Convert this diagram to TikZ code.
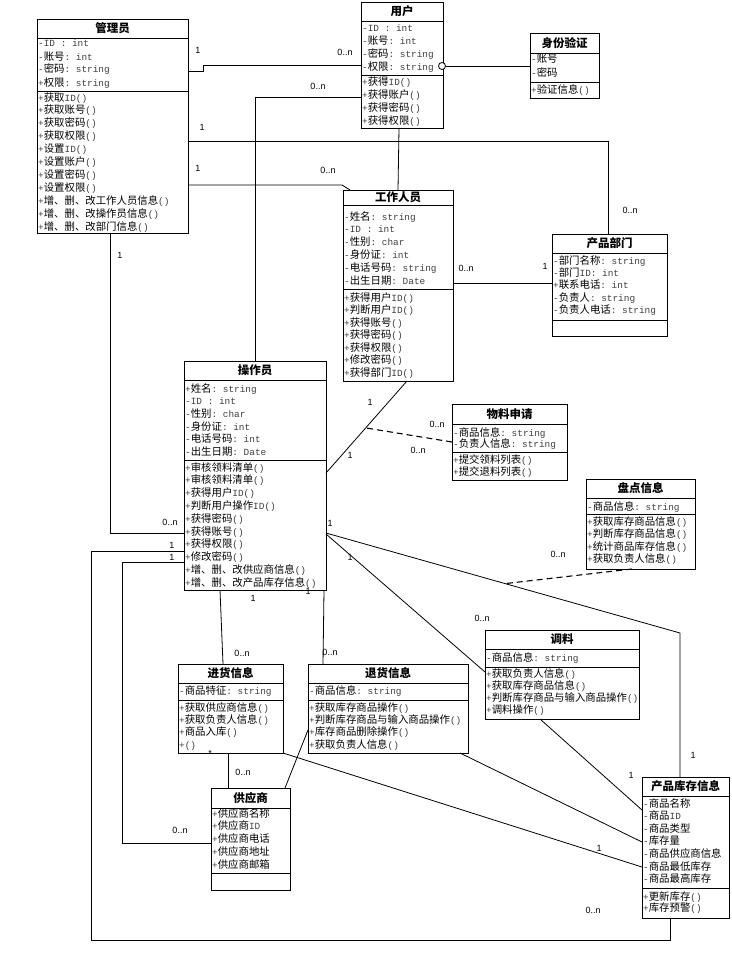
\documentclass[tikz,border=0pt]{standalone}
\usepackage{fontspec}
\setmainfont{Noto Sans CJK SC}
\setmonofont{Liberation Mono}
\newfontfamily\labfont{Liberation Sans}
\usetikzlibrary{calc}

\newcommand\m[1]{{\ttfamily\fontsize{9.4}{12}\selectfont\color{black!75}#1}}
\newcommand\av[3]{\m{#1}#2\m{ : #3}}
\newcommand\mt[2]{\m{#1}#2\m{()}}

% name, left, top, right, bottom, title sep, attr sep, title
\newcommand\umlclass[8]{%
  \node[clsbox, minimum width={#4pt-#2pt}, minimum height={#5pt-#3pt}] (#1) at (#2,#3) {};
  \draw[sepline] (#2,#6) -- (#4,#6);
  \draw[sepline] (#2,#7) -- (#4,#7);
  \node[ttl] (#1-t) at ({(#2+#4)/2},{(#3+#6)/2}) {#8};
}
% prefix, x, first baseline, spacing, list
\newcommand\cltext[5]{%
  \foreach \cl [count=\i from 0] in {#5} {\node[txt] (#1-\i) at (#2, #3+\i*#4) {\cl};}
}

\begin{document}
\begin{tikzpicture}[x=1pt,y=-1pt,
  clsbox/.style={draw, line width=0.9pt, inner sep=0, outer sep=0, anchor=north west},
  sepline/.style={line width=0.9pt},
  ttl/.style={inner sep=0, font=\bfseries\fontsize{11.5}{12}\selectfont},
  txt/.style={anchor=base west, inner sep=0, font=\fontsize{10.4}{12}\selectfont},
  conn/.style={line width=0.8pt},
  dconn/.style={line width=1.1pt, dash pattern=on 6pt off 4pt},
  lab/.style={inner sep=0, font=\labfont\fontsize{9}{10}\selectfont}]
\fill[white] (0,0) rectangle (731,958);
\useasboundingbox (0,0) rectangle (731,958);

% ---------- classes ----------
\umlclass{admin}{37}{19}{188}{233}{38}{91}{管理员}
\cltext{admin-a}{38}{47}{13}{\m{-ID : int}, \av{-}{账号}{int}, \av{-}{密码}{string}, \av{+}{权限}{string}}
\cltext{admin-m}{38}{101}{12.9}{\mt{+}{获取\m{ID}}, \mt{+}{获取账号}, \mt{+}{获取密码}, \mt{+}{获取权限}, \mt{+}{设置\m{ID}}, \mt{+}{设置账户}, \mt{+}{设置密码}, \mt{+}{设置权限}, \mt{+}{增、删、改工作人员信息}, \mt{+}{增、删、改操作员信息}, \mt{+}{增、删、改部门信息}}

\umlclass{user}{361}{2}{443}{128}{21}{75}{用户}
\cltext{user-a}{362}{32}{12.7}{\m{-ID : int}, \av{-}{账号}{int}, \av{-}{密码}{string}, \av{-}{权限}{string}}
\cltext{user-m}{362}{85}{13}{\mt{+}{获得\m{ID}}, \mt{+}{获得账户}, \mt{+}{获得密码}, \mt{+}{获得权限}}

\umlclass{auth}{530}{33}{599}{98}{53}{82}{身份验证}
\cltext{auth-a}{531}{63}{14}{\m{-}账号, \m{-}密码}
\cltext{auth-m}{531}{93}{13}{\mt{+}{验证信息}}

\umlclass{staff}{343}{190}{453}{381}{205}{289}{工作人员}
\cltext{staff-a}{344}{220}{12.8}{\av{-}{姓名}{string}, \m{-ID : int}, \av{-}{性别}{char}, \av{-}{身份证}{int}, \av{-}{电话号码}{string}, \av{-}{出生日期}{Date}}
\cltext{staff-m}{344}{301}{12.5}{\mt{+}{获得用户\m{ID}}, \mt{+}{判断用户\m{ID}}, \mt{+}{获得账号}, \mt{+}{获得密码}, \mt{+}{获得权限}, \mt{+}{修改密码}, \mt{+}{获得部门\m{ID}}}

\umlclass{dept}{552}{234}{667}{336}{253}{320}{产品部门}
\cltext{dept-a}{553}{264}{12.4}{\av{-}{部门名称}{string}, \av{-}{部门\m{ID}}{int}, \av{+}{联系电话}{int}, \av{-}{负责人}{string}, \av{-}{负责人电话}{string}}

\umlclass{oper}{184}{361}{326}{590}{380}{460}{操作员}
\cltext{oper-a}{185}{392}{12.7}{\av{+}{姓名}{string}, \m{-ID : int}, \av{-}{性别}{char}, \av{-}{身份证}{int}, \av{-}{电话号码}{int}, \av{-}{出生日期}{Date}}
\cltext{oper-m}{185}{471}{12.8}{\mt{+}{审核领料清单}, \mt{+}{审核领料清单}, \mt{+}{获得用户\m{ID}}, \mt{+}{判断用户操作\m{ID}}, \mt{+}{获得密码}, \mt{+}{获得账号}, \mt{+}{获得权限}, \mt{+}{修改密码}, \mt{+}{增、删、改供应商信息}, \mt{+}{增、删、改产品库存信息}}

\umlclass{mat}{452}{404}{567}{480}{424}{452}{物料申请}
\cltext{mat-a}{453}{436}{11.5}{\av{-}{商品信息}{string}, \av{-}{负责人信息}{string}}
\cltext{mat-m}{453}{463}{12}{\mt{+}{提交领料列表}, \mt{+}{提交退料列表}}

\umlclass{inv}{586}{479}{695}{569}{498}{514}{盘点信息}
\cltext{inv-a}{587}{510}{12}{\av{-}{商品信息}{string}}
\cltext{inv-m}{587}{525}{12.5}{\mt{+}{获取库存商品信息}, \mt{+}{判断库存商品信息}, \mt{+}{统计商品库存信息}, \mt{+}{获取负责人信息}}

\umlclass{inbound}{178}{664}{283}{753}{683}{700}{进货信息}
\cltext{inbound-a}{179}{694}{12}{\av{-}{商品特征}{string}}
\cltext{inbound-m}{179}{711}{12.4}{\mt{+}{获取供应商信息}, \mt{+}{获取负责人信息}, \mt{+}{商品入库}, \mt{+}{}}

\umlclass{ret}{308}{664}{468}{753}{683}{700}{退货信息}
\cltext{ret-a}{309}{694}{12}{\av{-}{商品信息}{string}}
\cltext{ret-m}{309}{711}{12.4}{\mt{+}{获取库存商品操作}, \mt{+}{判断库存商品与输入商品操作}, \mt{+}{库存商品删除操作}, \mt{+}{获取负责人信息}}

\umlclass{tiao}{485}{630}{639}{719}{649}{667}{调料}
\cltext{tiao-a}{486}{661}{12}{\av{-}{商品信息}{string}}
\cltext{tiao-m}{486}{677}{12.3}{\mt{+}{获取负责人信息}, \mt{+}{获取库存商品信息}, \mt{+}{判断库存商品与输入商品操作}, \mt{+}{调料操作}}

\umlclass{sup}{211}{788}{290}{890}{808}{873}{供应商}
\cltext{sup-a}{212}{817}{12.8}{\m{+}供应商名称, \m{+}供应商\m{ID}, \m{+}供应商电话, \m{+}供应商地址, \m{+}供应商邮箱}

\umlclass{stock}{642}{777}{729}{918}{796}{888}{产品库存信息}
\cltext{stock-a}{643}{807}{12.6}{\m{-}商品名称, \m{-}商品\m{ID}, \m{-}商品类型, \m{-}库存量, \m{-}商品供应商信息, \m{-}商品最低库存, \m{-}商品最高库存}
\cltext{stock-m}{643}{900}{11.5}{\mt{+}{更新库存}, \mt{+}{库存预警}}

% ---------- connectors ----------
% admin - user
\draw[conn] ($(admin.north east)+(0,52)$) -- ++(15,0) |- ($(user.north west)+(0,63)$);
% user - oper
\draw[conn] ($(user.north west)+(0,95)$) -| ($(oper.north west)+(71,0)$);
% admin - dept
\draw[conn] ($(admin.north east)+(0,122)$) -| ($(dept.north west)+(56,0)$);
% admin - staff
\draw[conn] ($(admin.north east)+(0,166)$) -- ($(staff.north west)+(-1,-5)$) -- ($(staff.north west)+(7,0)$);
% user - staff
\draw[conn] ($(user.south west)+(38,0)$) -- ($(staff.north west)+(55,0)$);
% user - auth
\draw[conn] ($(user.north east)+(0,64)$) -- ($(auth.north west)+(0,33)$);
\node[circle, draw, line width=0.8pt, fill=white, minimum size=7pt, inner sep=0] (ucirc) at ($(user.north east)+(-1,64)$) {};
% staff - dept
\draw[conn] ($(staff.north east)+(0,93)$) -- ($(dept.north west)+(0,49)$);
% admin - oper
\draw[conn] ($(admin.south west)+(73,0)$) |- ($(oper.north west)+(0,172)$);
% oper - stock (outer loop)
\draw[conn] ($(oper.north west)+(0,190)$) -- ++(-93,0) |- ($(stock.south west)+(28,22)$) -- ($(stock.south west)+(28,0)$);
% oper - sup
\draw[conn] ($(oper.north west)+(0,201)$) -- ++(-62,0) |- ($(sup.north west)+(0,55)$);
% oper - staff
\draw[conn] ($(oper.north east)+(0,112)$) -- coordinate[pos=0.49] (jmid) ($(staff.south west)+(64,0)$);
\draw[dconn] ($(mat.north west)+(0,38)$) -- (jmid);
% oper - stock
\draw[conn] ($(oper.north east)+(0,172)$) -- coordinate[pos=0.506] (lmid) ++(354,100) -- ($(stock.north west)+(38,0)$);
\draw[dconn] ($(inv.south west)+(46,0)$) -- (lmid);
% oper - tiao
\draw[conn] ($(oper.north east)+(0,173)$) -- ($(tiao.north west)+(0,42)$);
% oper - inbound / ret
\draw[conn] ($(oper.south west)+(36,0)$) -- ($(inbound.north west)+(45,0)$);
\draw[conn] ($(oper.south west)+(140,0)$) -- ($(ret.north west)+(15,0)$);
% inbound - sup, ret - sup
\draw[conn] ($(inbound.south west)+(50,0)$) -- ($(sup.north west)+(17,0)$);
\draw[conn] ($(ret.north west)+(0,66)$) -- ($(sup.north west)+(74,0)$);
% to stock
\draw[conn] (inbound.south east) -- ($(stock.north west)+(0,90)$);
\draw[conn] ($(ret.south east)+(-8,0)$) -- ($(stock.north west)+(0,65)$);
\draw[conn] ($(tiao.south west)+(55,0)$) -- ($(stock.north west)+(0,33)$);

% ---------- multiplicities ----------
\foreach \x/\y [count=\k] in {198/50, 202/127, 198/168, 120/255, 545/266, 370/402, 350/455, 330/523, 172/545, 172/557, 350/557, 253/598, 308/591, 631/775, 599/848, 693/755}
  \node[lab] (one\k) at (\x,\y) {1};
\foreach \x/\y [count=\k] in {345/52, 318/86, 328/170, 630/210, 466/268, 170/522, 437/424, 418/450, 558/554, 482/618, 242/653, 330/652, 243/772, 180/830, 593/910}
  \node[lab] (many\k) at (\x,\y) {0..n};
\node[lab] (star1) at (210,753) {*};
\end{tikzpicture}
\end{document}
